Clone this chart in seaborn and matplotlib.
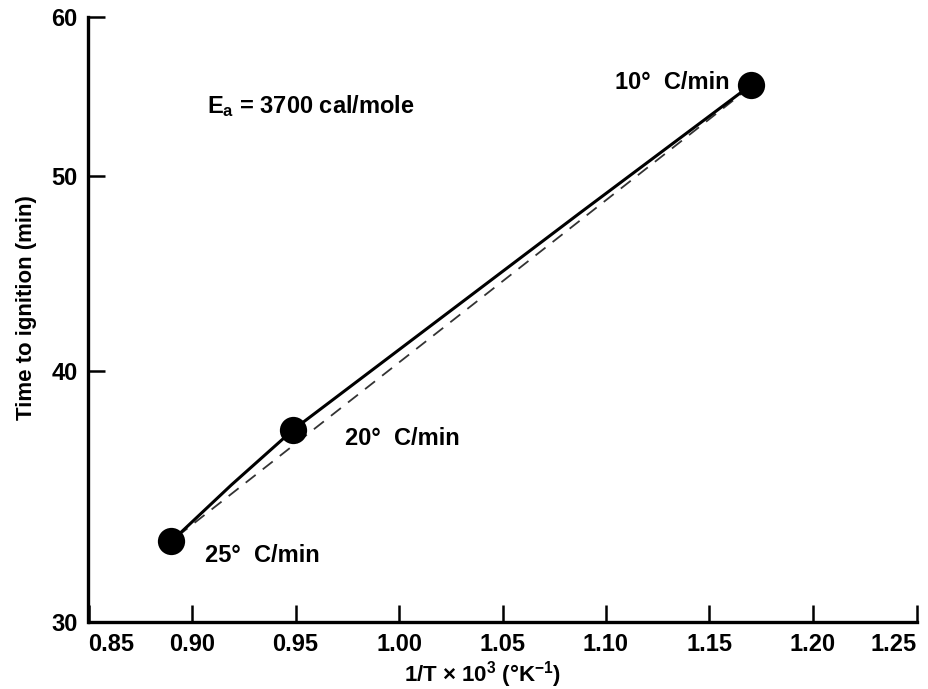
import numpy as np
import pandas as pd
import matplotlib
matplotlib.use("Agg")
import matplotlib.pyplot as plt
import seaborn as sns

# Données
vitesses = ["25°  C/min", "20°  C/min", "10°  C/min"]
inv_T = [0.890, 0.949, 1.170]
temps = [32.9, 37.4, 55.5]

# courbe continue (tracé à main levée de l'original)
courbe_x = [0.890, 0.919, 0.949, 1.087, 1.170]
courbe_y = [32.9, 35.1, 37.4, 47.9, 55.5]

# droite d'Arrhenius (tirets)
droite_x = [0.893, 1.168]
droite_y = [33.1, 55.2]

y_ticks = [30, 40, 50, 60]
x_ticks = [0.85, 0.90, 0.95, 1.00, 1.05, 1.10, 1.15, 1.20, 1.25]

points = pd.DataFrame({"inv_T": inv_T, "temps": temps, "vitesse": vitesses})
courbe = pd.DataFrame({"x": courbe_x, "y": courbe_y})
droite = pd.DataFrame({"x": droite_x, "y": droite_y})

sns.set_style("ticks")
plt.rcParams["font.family"] = ["Liberation Sans", "DejaVu Sans"]
plt.rcParams["font.weight"] = "bold"
plt.rcParams["mathtext.fontset"] = "custom"
plt.rcParams["mathtext.rm"] = "Liberation Sans:bold"
plt.rcParams["mathtext.it"] = "Liberation Sans:bold"
plt.rcParams["mathtext.default"] = "rm"
for k in ["text.color", "axes.labelcolor", "xtick.color", "ytick.color", "axes.edgecolor"]:
    plt.rcParams[k] = "black"

fig = plt.figure(figsize=(9.29, 6.89), dpi=100)
ax = fig.add_axes([88.5 / 929, 1 - 622 / 689, 828 / 929, 605 / 689])

sns.lineplot(data=droite, x="x", y="y", ax=ax, color="#333333", lw=1.3,
             linestyle=(0, (7, 5)))
sns.lineplot(data=courbe, x="x", y="y", ax=ax, color="black", lw=2.2)
sns.scatterplot(data=points, x="inv_T", y="temps", ax=ax, s=330,
                color="black", edgecolor="black", zorder=5)

ax.set_yscale("log")
ax.set_xlim(0.85, 1.25)
ax.set_ylim(30, 60)
ax.set_yticks(y_ticks)
ax.set_yticklabels([str(v) for v in y_ticks])
ax.yaxis.set_minor_locator(matplotlib.ticker.NullLocator())
ax.set_xticks(x_ticks)
ax.set_xticklabels([f"{v:.2f}" for v in x_ticks])
lbls = ax.get_xticklabels()
lbls[0].set_ha("left")
lbls[-1].set_ha("right")

for s in ["top", "right"]:
    ax.spines[s].set_visible(False)
for s in ["left", "bottom"]:
    ax.spines[s].set_linewidth(2.4)
ax.tick_params(direction="in", length=12, width=1.8, labelsize=17, pad=8)

ax.set_xlabel("1/T × 10$^3$ (°K$^{-1}$)", fontsize=16, fontweight="bold")
ax.set_ylabel("Time to ignition (min)", fontsize=16, fontweight="bold")
ax.xaxis.set_label_coords(0.476, -0.062)
ax.yaxis.set_label_coords(-0.062, 0.519)

# annotations
ax.text(1.1599, 55.26, vitesses[2], ha="right", va="baseline", fontsize=17, fontweight="bold")
ax.text(0.9739, 36.74, vitesses[1], ha="left", va="baseline", fontsize=17, fontweight="bold")
ax.text(0.9063, 32.13, vitesses[0], ha="left", va="baseline", fontsize=17, fontweight="bold")
ax.text(0.9072, 53.75, "E$_a$ = 3700 cal/mole", ha="left", va="baseline", fontsize=17, fontweight="bold")

fig.savefig("out.png", dpi=100, facecolor="white")
